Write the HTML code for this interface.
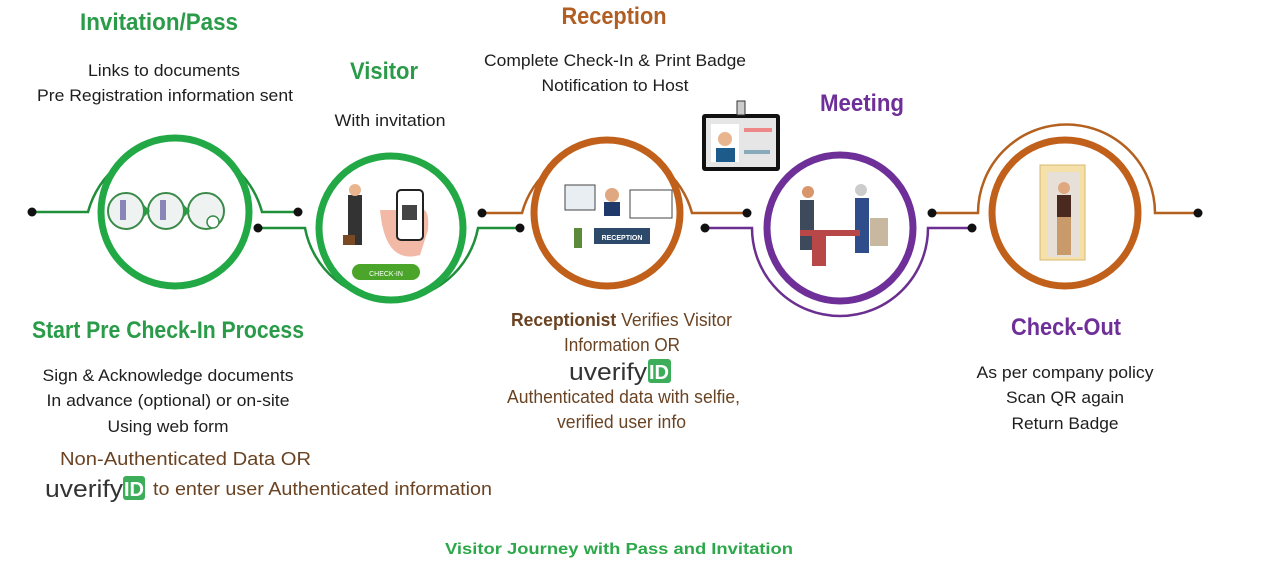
<!DOCTYPE html>
<html><head><meta charset="utf-8"><style>
html,body{margin:0;padding:0;background:#fff;}
svg{display:block;}
text{font-family:"Liberation Sans",sans-serif;}
.t{font-weight:bold;font-size:24px;}
.b{font-size:17px;fill:#1e1e1e;}
.br{font-size:18px;fill:#6a4323;}
</style></head><body>
<svg width="1280" height="578" viewBox="0 0 1280 578" xmlns="http://www.w3.org/2000/svg">
<!-- connectors -->
<g fill="none" stroke-width="2.5">
<path d="M32 212 H88 A90 90 0 0 1 262 212 H298" stroke="#1f8f3a"/>
<path d="M258 228 H305 A88 88 0 0 0 478 228 H520" stroke="#1f8f3a"/>
<path d="M482 213 H522 A88 88 0 0 1 692 213 H747" stroke="#b4601f"/>
<path d="M705 228 H752 A88 88 0 0 0 928 228 H972" stroke="#6b2f8f"/>
<path d="M932 213 H978 A88 88 0 0 1 1155 213 H1198" stroke="#b4601f"/>
</g>
<g fill="#111">
<circle cx="32" cy="212" r="4.5"/><circle cx="298" cy="212" r="4.5"/>
<circle cx="258" cy="228" r="4.5"/><circle cx="520" cy="228" r="4.5"/>
<circle cx="482" cy="213" r="4.5"/><circle cx="747" cy="213" r="4.5"/>
<circle cx="705" cy="228" r="4.5"/><circle cx="972" cy="228" r="4.5"/>
<circle cx="932" cy="213" r="4.5"/><circle cx="1198" cy="213" r="4.5"/>
</g>
<!-- main rings -->
<g fill="#fff" stroke-width="7">
<circle cx="175" cy="212" r="74" stroke="#22a845"/>
<circle cx="391" cy="228" r="72" stroke="#22a845"/>
<circle cx="607" cy="213" r="73" stroke="#c0601a"/>
<circle cx="840" cy="228" r="73" stroke="#6f2f98"/>
<circle cx="1065" cy="213" r="73" stroke="#c0601a"/>
</g>
<!-- circle1 icons -->
<g stroke="#3a8a4a" stroke-width="2" fill="#eef3f1">
<circle cx="126" cy="211" r="18"/><circle cx="166" cy="211" r="18"/><circle cx="206" cy="211" r="18"/>
</g>
<g fill="#8a86b8"><rect x="120" y="200" width="6" height="20"/><rect x="160" y="200" width="6" height="20"/></g>
<polygon points="143,204 150,211 143,218" fill="#2a9a45"/><polygon points="183,204 190,211 183,218" fill="#2a9a45"/>
<circle cx="213" cy="222" r="6" fill="#fff" stroke="#3a8a4a" stroke-width="1.5"/>
<!-- circle2 icons -->
<rect x="348" y="195" width="14" height="50" fill="#333"/><circle cx="355" cy="190" r="6" fill="#e9b58f"/>
<rect x="343" y="235" width="12" height="10" fill="#7a4a25"/>
<path d="M380 210 Q385 265 420 255 L428 230 Q430 205 418 210 Z" fill="#f1b9a6"/>
<rect x="397" y="190" width="26" height="50" rx="4" fill="#fff" stroke="#222" stroke-width="2"/>
<rect x="402" y="205" width="15" height="15" fill="#444"/>
<rect x="352" y="264" width="68" height="16" rx="8" fill="#4aa52a"/>
<text x="386" y="276" font-size="7" fill="#fff" text-anchor="middle">CHECK-IN</text>
<!-- circle3 icons -->
<rect x="565" y="185" width="30" height="25" fill="#e8eef2" stroke="#444"/>
<circle cx="612" cy="195" r="7" fill="#e0a880"/><rect x="604" y="202" width="16" height="14" fill="#1f3a6a"/>
<rect x="630" y="190" width="42" height="28" fill="#fff" stroke="#444"/>
<rect x="594" y="228" width="56" height="16" fill="#2d4a6a"/>
<text x="622" y="240" font-size="7" fill="#fff" text-anchor="middle" font-weight="bold">RECEPTION</text>
<rect x="574" y="228" width="8" height="20" fill="#5a8a3a"/>
<!-- badge -->
<rect x="702" y="114" width="78" height="57" rx="3" fill="#111"/>
<rect x="706" y="118" width="70" height="49" fill="#e6e6e6"/>
<rect x="711" y="124" width="28" height="38" fill="#fff"/>
<circle cx="725" cy="139" r="7" fill="#e9b58f"/><rect x="716" y="148" width="19" height="14" fill="#1d5c8a"/>
<rect x="744" y="128" width="28" height="4" fill="#e88"/><rect x="744" y="150" width="26" height="4" fill="#8ab"/>
<rect x="737" y="101" width="8" height="14" fill="#ccc" stroke="#333"/>
<!-- circle4 -->
<rect x="800" y="200" width="14" height="50" fill="#3d4a5c"/><circle cx="808" cy="192" r="6" fill="#d9956b"/>
<rect x="855" y="198" width="14" height="55" fill="#2e4d8a"/><circle cx="861" cy="190" r="6" fill="#ccc"/>
<rect x="800" y="230" width="60" height="6" fill="#b84848"/><rect x="812" y="236" width="14" height="30" fill="#b84848"/>
<rect x="870" y="218" width="18" height="28" fill="#c9b8a0"/>
<!-- circle5 -->
<rect x="1040" y="165" width="45" height="95" fill="#f4e0a8" stroke="#d9b870"/>
<rect x="1048" y="172" width="32" height="85" fill="#e7e0d9"/>
<circle cx="1064" cy="188" r="6" fill="#e0a880"/>
<rect x="1057" y="195" width="14" height="22" fill="#4a2a1e"/>
<rect x="1057" y="217" width="14" height="38" fill="#c99a6a"/>
<!-- texts -->
<g class="t" text-anchor="middle">
<text x="159" y="30" fill="#2a9b48" textLength="158" lengthAdjust="spacingAndGlyphs">Invitation/Pass</text>
<text x="384" y="79" fill="#2a9b48" textLength="68" lengthAdjust="spacingAndGlyphs">Visitor</text>
<text x="614" y="24" fill="#b05e24" textLength="105" lengthAdjust="spacingAndGlyphs">Reception</text>
<text x="862" y="111" fill="#6f2f98" textLength="84" lengthAdjust="spacingAndGlyphs">Meeting</text>
<text x="168" y="338" fill="#2a9b48" textLength="272" lengthAdjust="spacingAndGlyphs">Start Pre Check-In Process</text>
<text x="1066" y="335" fill="#6f2f98" textLength="110" lengthAdjust="spacingAndGlyphs">Check-Out</text>
</g>
<g class="b" text-anchor="middle">
<text x="164" y="76" textLength="152" lengthAdjust="spacingAndGlyphs">Links to documents</text>
<text x="165" y="101" textLength="256" lengthAdjust="spacingAndGlyphs">Pre Registration information sent</text>
<text x="390" y="126" textLength="111" lengthAdjust="spacingAndGlyphs">With invitation</text>
<text x="615" y="66" textLength="262" lengthAdjust="spacingAndGlyphs">Complete Check-In &amp; Print Badge</text>
<text x="615" y="91" textLength="147" lengthAdjust="spacingAndGlyphs">Notification to Host</text>
<text x="168" y="381" textLength="251" lengthAdjust="spacingAndGlyphs">Sign &amp; Acknowledge documents</text>
<text x="168" y="406" textLength="243" lengthAdjust="spacingAndGlyphs">In advance (optional) or on-site</text>
<text x="168" y="432" textLength="121" lengthAdjust="spacingAndGlyphs">Using web form</text>
<text x="1065" y="378" textLength="177" lengthAdjust="spacingAndGlyphs">As per company policy</text>
<text x="1065" y="403" textLength="118" lengthAdjust="spacingAndGlyphs">Scan QR again</text>
<text x="1065" y="429" textLength="107" lengthAdjust="spacingAndGlyphs">Return Badge</text>
</g>
<g class="br">
<text x="60" y="465" textLength="251" lengthAdjust="spacingAndGlyphs">Non-Authenticated Data  OR</text>
<text x="153" y="495" textLength="339" lengthAdjust="spacingAndGlyphs">to enter user Authenticated information</text>
<text x="511" y="326" textLength="221" lengthAdjust="spacingAndGlyphs"><tspan font-weight="bold">Receptionist</tspan> Verifies Visitor</text>
<text x="564" y="351" textLength="116" lengthAdjust="spacingAndGlyphs">Information OR</text>
<text x="507" y="403" textLength="233" lengthAdjust="spacingAndGlyphs">Authenticated data with selfie,</text>
<text x="557" y="428" textLength="129" lengthAdjust="spacingAndGlyphs">verified user info</text>
</g>
<!-- uverify logos -->
<g>
<text x="45" y="497" font-size="24" fill="#333" textLength="78" lengthAdjust="spacingAndGlyphs">uverify</text>
<rect x="123" y="476" width="22" height="24" rx="3" fill="#3cae5a"/>
<text x="134" y="496" font-size="20" fill="#fff" text-anchor="middle" font-weight="bold">ID</text>
<text x="569" y="380" font-size="24" fill="#333" textLength="78" lengthAdjust="spacingAndGlyphs">uverify</text>
<rect x="648" y="359" width="23" height="24" rx="3" fill="#3cae5a"/>
<text x="659" y="379" font-size="20" fill="#fff" text-anchor="middle" font-weight="bold">ID</text>
</g>
<text x="619" y="554" font-size="16" font-weight="bold" fill="#2ca84a" text-anchor="middle" textLength="348" lengthAdjust="spacingAndGlyphs">Visitor Journey with Pass and Invitation</text>
</svg>
</body></html>
